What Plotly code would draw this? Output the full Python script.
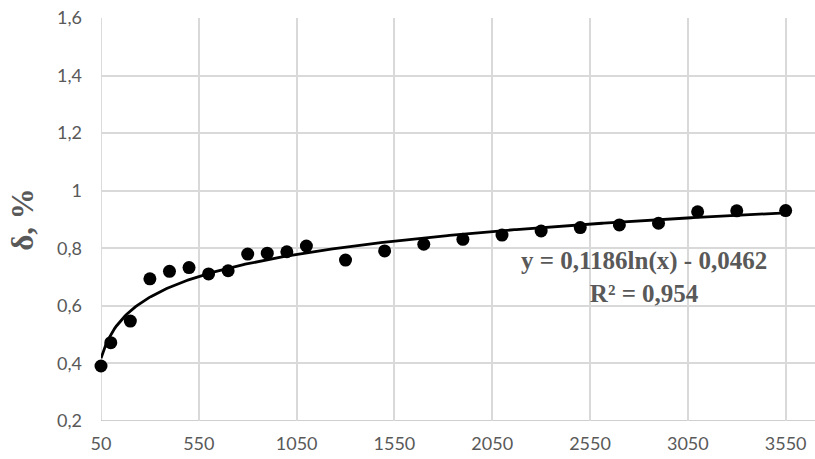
import numpy as np
import plotly.graph_objects as go

# Data
x_vals = [50, 100, 200, 300, 400, 500, 600, 700, 800, 900, 1000, 1100,
          1300, 1500, 1700, 1900, 2100, 2300, 2500, 2700, 2900, 3100, 3300, 3550]
y_vals = [0.391, 0.472, 0.547, 0.694, 0.720, 0.733, 0.711, 0.722, 0.780, 0.783, 0.788, 0.808,
          0.759, 0.791, 0.814, 0.831, 0.846, 0.860, 0.872, 0.881, 0.887, 0.927, 0.930, 0.931]

# Trendline coefficients printed on the chart: y = a*ln(x) + b
trend_a = 0.1186
trend_b = -0.0462
trend_label = "y = 0,1186ln(x) - 0,0462<br>R² = 0,954"

x_ticks = [50, 550, 1050, 1550, 2050, 2550, 3050, 3550]
x_tick_text = ["50", "550", "1050", "1550", "2050", "2550", "3050", "3550"]
y_ticks = [0.2, 0.4, 0.6, 0.8, 1.0, 1.2, 1.4, 1.6]
y_tick_text = ["0,2", "0,4", "0,6", "0,8", "1", "1,2", "1,4", "1,6"]
y_title = "δ, %"

tx = np.linspace(min(x_vals), max(x_vals), 400)
ty = trend_a * np.log(tx) + trend_b

fig = go.Figure()
fig.add_trace(go.Scatter(x=tx, y=ty, mode="lines",
                         line=dict(color="black", width=2.8),
                         hoverinfo="skip", showlegend=False, cliponaxis=False))
fig.add_trace(go.Scatter(x=x_vals, y=y_vals, mode="markers",
                         marker=dict(color="black", size=13),
                         showlegend=False, cliponaxis=False))

grid = "#d9d9d9"
tick_font = dict(family="Lato, 'Open Sans', sans-serif", size=18, color="#595959")

fig.update_layout(
    width=815, height=459,
    margin=dict(l=101, r=0, t=18, b=38),
    paper_bgcolor="white", plot_bgcolor="white",
    xaxis=dict(range=[50, 3700], tickvals=x_ticks, ticktext=x_tick_text,
               showgrid=True, gridcolor=grid, gridwidth=1.5,
               zeroline=False, showline=False, ticks="",
               tickfont=tick_font, ticklabelstandoff=10),
    yaxis=dict(range=[0.2, 1.6], tickvals=y_ticks, ticktext=y_tick_text,
               showgrid=True, gridcolor=grid, gridwidth=1.5,
               zeroline=False, showline=False, ticks="",
               tickfont=tick_font, ticklabelstandoff=18,
               title=dict(text=y_title, standoff=14,
                          font=dict(family="Liberation Serif, 'Times New Roman', serif",
                                    size=31, color="#595959", weight="bold"))),
    annotations=[dict(x=2825, y=0.70, xref="x", yref="y", text=trend_label,
                      showarrow=False, align="center",
                      font=dict(family="Liberation Serif, 'Times New Roman', serif",
                                size=25, color="#595959", weight="bold"))],
)

# axis lines (bottom and left) in slightly darker gray
fig.add_shape(type="line", xref="x", yref="paper", x0=50, x1=50, y0=0, y1=1,
              line=dict(color="#cfcfcf", width=1.5), layer="below")
fig.add_shape(type="line", xref="paper", yref="y", x0=0, x1=1, y0=0.2, y1=0.2,
              line=dict(color="#bfbfbf", width=1.5), layer="below")

fig.write_html("out.html")
